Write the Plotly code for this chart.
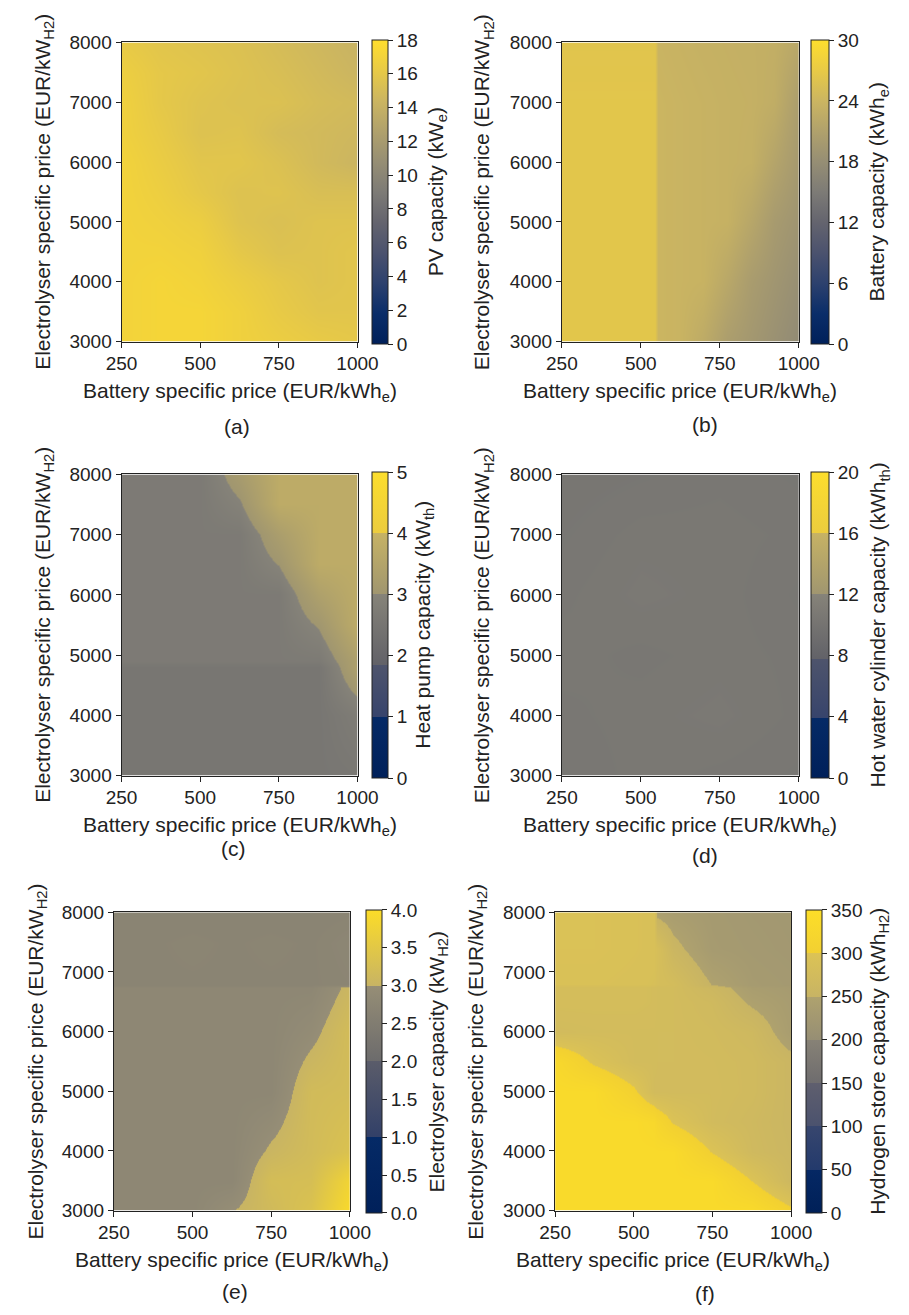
import plotly.graph_objects as go

W, H = 909, 1315

# ------------------------------------------------------------------ data
# (a) PV capacity (kWe)
batt_price_a = [250, 375, 500, 625, 750, 875, 1000]
elec_price_a = [3000, 3500, 4000, 4500, 5000, 5500, 6000, 6500, 7000, 7500, 8000]
pv_capacity = [
    [17.0, 17.2, 17.2, 16.8, 16.5, 16.2, 16.0],
    [17.0, 17.2, 17.2, 16.8, 16.2, 15.8, 15.8],
    [17.0, 17.2, 17.0, 16.5, 16.0, 15.6, 15.8],
    [17.0, 17.0, 16.8, 16.0, 15.5, 15.6, 15.8],
    [17.0, 16.8, 16.5, 15.6, 15.3, 15.6, 15.6],
    [17.0, 16.6, 16.0, 15.5, 15.6, 15.2, 15.2],
    [17.0, 16.4, 15.8, 15.8, 15.4, 14.8, 14.4],
    [16.8, 16.2, 15.5, 15.6, 15.0, 14.8, 14.6],
    [16.8, 16.0, 15.6, 15.4, 15.4, 15.0, 14.8],
    [16.6, 16.0, 15.8, 15.5, 15.2, 14.8, 14.4],
    [16.2, 15.8, 15.6, 15.4, 15.0, 14.6, 14.2],
]

# (b) Battery capacity (kWhe)
batt_price_b = [250, 400, 545, 555, 625, 700, 775, 850, 925, 1000]
elec_price_b = [3000, 4000, 5000, 6000, 7000, 8000]
battery_capacity = [
    [26.4, 26.4, 26.4, 24.0, 23.8, 22.5, 20.5, 19.5, 18.5, 17.5],
    [26.4, 26.4, 26.4, 24.0, 23.8, 23.6, 22.0, 20.2, 19.2, 18.2],
    [26.4, 26.4, 26.4, 24.0, 23.8, 23.6, 23.4, 21.8, 20.0, 19.0],
    [26.4, 26.4, 26.4, 24.0, 23.8, 23.6, 23.4, 23.2, 21.5, 19.8],
    [26.4, 26.4, 26.4, 24.0, 23.8, 23.6, 23.4, 23.3, 22.8, 20.5],
    [26.2, 26.2, 26.2, 23.8, 23.6, 23.4, 23.3, 23.2, 23.0, 22.0],
]

# (c) Heat pump capacity (kWth)
batt_price_c = [250, 375, 500, 625, 750, 875, 1000]
elec_price_c = [3000, 4000, 4800, 4900, 5500, 6000, 6500, 7000, 7500, 8000]
heat_pump_capacity = [
    [2.55, 2.55, 2.55, 2.55, 2.55, 2.55, 2.60],
    [2.55, 2.55, 2.55, 2.55, 2.55, 2.55, 2.77],
    [2.55, 2.55, 2.55, 2.55, 2.55, 2.55, 3.38],
    [2.70, 2.70, 2.70, 2.70, 2.70, 2.70, 3.36],
    [2.70, 2.70, 2.70, 2.70, 2.70, 3.03, 3.75],
    [2.70, 2.70, 2.70, 2.70, 2.70, 3.38, 3.75],
    [2.70, 2.70, 2.70, 2.70, 3.01, 3.75, 3.75],
    [2.70, 2.70, 2.70, 2.70, 3.28, 3.75, 3.75],
    [2.70, 2.70, 2.70, 2.95, 3.75, 3.75, 3.75],
    [2.70, 2.70, 2.70, 3.20, 3.75, 3.75, 3.75],
]

# (d) Hot water cylinder capacity (kWhth)
batt_price_d = [250, 500, 750, 1000]
elec_price_d = [3000, 4000, 5000, 6000, 7000, 8000]
hot_water_capacity = [
    [10.4, 10.6, 10.5, 10.4],
    [10.5, 10.6, 10.7, 10.5],
    [10.6, 10.5, 10.6, 10.5],
    [10.5, 10.7, 10.6, 10.4],
    [10.4, 10.6, 10.6, 10.5],
    [10.3, 10.4, 10.5, 10.4],
]

# (e) Electrolyser capacity (kWH2)
batt_price_e = [250, 375, 500, 625, 750, 875, 1000]
elec_price_e = [3000, 3500, 4000, 5000, 6000, 6750, 6800, 7500, 8000]
electrolyser_capacity = [
    [2.80, 2.80, 2.80, 2.99, 3.15, 3.35, 3.95],
    [2.80, 2.80, 2.80, 2.80, 3.22, 3.25, 3.80],
    [2.80, 2.80, 2.80, 2.80, 3.04, 3.18, 3.35],
    [2.80, 2.80, 2.80, 2.80, 2.80, 3.17, 3.20],
    [2.80, 2.80, 2.80, 2.80, 2.80, 2.93, 3.20],
    [2.80, 2.80, 2.80, 2.80, 2.80, 2.80, 3.06],
    [2.72, 2.72, 2.72, 2.72, 2.72, 2.72, 2.75],
    [2.72, 2.72, 2.74, 2.72, 2.74, 2.72, 2.78],
    [2.70, 2.70, 2.70, 2.70, 2.70, 2.70, 2.72],
]

# (f) Hydrogen store capacity (kWhH2)
batt_price_f = [250, 375, 500, 565, 575, 625, 750, 875, 1000]
elec_price_f = [3000, 3500, 4000, 4500, 5000, 5500, 6000, 6500, 6750, 6800, 7400, 8000]
hydrogen_store_capacity = [
    [335, 335, 335, 335, 335, 335, 335, 335, 305],
    [335, 335, 335, 335, 335, 335, 335, 299, 262],
    [335, 335, 335, 335, 335, 335, 298, 268, 258],
    [335, 335, 335, 328, 319, 297, 274, 266, 256],
    [335, 335, 304, 274, 274, 274, 275, 270, 256],
    [328, 295, 276, 276, 275, 275, 274, 270, 256],
    [274, 276, 276, 276, 275, 275, 272, 265, 237],
    [280, 280, 280, 278, 276, 275, 268, 246, 235],
    [280, 280, 280, 278, 276, 275, 260, 238, 232],
    [292, 292, 290, 288, 282, 278, 249, 232, 228],
    [295, 295, 292, 290, 285, 257, 232, 228, 225],
    [295, 295, 292, 290, 244, 238, 230, 226, 224],
]

x_ticks = [250, 500, 750, 1000]
y_ticks = [3000, 4000, 5000, 6000, 7000, 8000]

# ------------------------------------------------------------------ styling
FONT = "Liberation Sans, Arial, sans-serif"
TXT = "#222222"
TICK_SIZE = 19
TITLE_SIZE = 21

# cividis-like continuous palette
CIV = [
    [0.0, "rgb(0,32,90)"], [0.1, "rgb(10,45,105)"], [0.2, "rgb(45,65,110)"],
    [0.3, "rgb(75,82,110)"], [0.4, "rgb(100,100,110)"], [0.5, "rgb(125,123,118)"],
    [0.6, "rgb(150,142,116)"], [0.7, "rgb(176,161,108)"], [0.8, "rgb(203,181,97)"],
    [0.9, "rgb(232,202,70)"], [1.0, "rgb(255,222,45)"],
]


def stepped(edges, colors):
    """edges: band boundaries (values), colors: (c_low, c_high) per band"""
    lo, hi = edges[0], edges[-1]
    sc = []
    for i, (ca, cb) in enumerate(colors):
        a = (edges[i] - lo) / (hi - lo)
        b = (edges[i + 1] - lo) / (hi - lo)
        sc.append([a, ca])
        sc.append([b, cb])
    return sc


NAVY = ("rgb(0,32,90)", "rgb(5,42,102)")
BLUEGRAY = ("rgb(55,68,108)", "rgb(78,84,108)")
GRAY = ("rgb(98,98,104)", "rgb(134,131,121)")
KHAKI = ("rgb(160,150,112)", "rgb(198,178,100)")
YELLOW = ("rgb(236,204,62)", "rgb(252,222,45)")

cs_c = stepped([0, 1, 1.85, 3, 4, 5], [NAVY, BLUEGRAY, GRAY, KHAKI, YELLOW])
cs_d = stepped([0, 3.9, 7.8, 12, 16, 20], [NAVY, BLUEGRAY, GRAY, KHAKI, YELLOW])
cs_e = stepped([0, 1, 2, 3, 4], [
    NAVY, ("rgb(50,64,104)", "rgb(90,92,106)"),
    ("rgb(108,107,108)", "rgb(150,142,118)"),
    ("rgb(200,180,100)", "rgb(252,220,40)")])
cs_f = stepped([0, 50, 100, 150, 200, 250, 300, 350], [
    ("rgb(0,32,88)", "rgb(5,40,100)"),
    ("rgb(35,58,108)", "rgb(55,70,110)"),
    ("rgb(75,82,110)", "rgb(95,95,110)"),
    ("rgb(110,108,110)", "rgb(135,130,118)"),
    ("rgb(150,142,116)", "rgb(175,162,110)"),
    ("rgb(200,180,100)", "rgb(220,195,85)"),
    ("rgb(242,208,50)", "rgb(252,222,40)"),
])

# pixel boxes: plot area (x0, x1, y0, y1), colorbar (x0, x1)
panels = [
    dict(x=batt_price_a, y=elec_price_a, z=pv_capacity, cs=CIV, zmax=18,
         ticks=list(range(0, 19, 2)), fmt="d", box=(110, 356, 33, 337), cb=(371, 387),
         cbt="PV capacity (kW<sub>e</sub>)", cbtx=439, ytx=29, lab="(a)", labxy=(230, 423)),
    dict(x=batt_price_b, y=elec_price_b, z=battery_capacity, cs=CIV, zmax=30,
         ticks=list(range(0, 31, 6)), fmt="d", box=(569, 816, 33, 337), cb=(829, 847),
         cbt="Battery capacity (kWh<sub>e</sub>)", cbtx=899, ytx=487, lab="(b)", labxy=(718, 421)),
    dict(x=batt_price_c, y=elec_price_c, z=heat_pump_capacity, cs=cs_c, zmax=5,
         ticks=list(range(0, 6)), fmt="d", box=(110, 356, 472, 778), cb=(371, 387),
         cbt="Heat pump capacity (kW<sub>th</sub>)", cbtx=425, ytx=29, lab="(c)", labxy=(227, 852)),
    dict(x=batt_price_d, y=elec_price_d, z=hot_water_capacity, cs=cs_d, zmax=20,
         ticks=list(range(0, 21, 4)), fmt="d", box=(569, 816, 472, 778), cb=(829, 847),
         cbt="Hot water cylinder capacity (kWh<sub>th</sub>)", cbtx=900, ytx=487, lab="(d)", labxy=(718, 859)),
    dict(x=batt_price_e, y=elec_price_e, z=electrolyser_capacity, cs=cs_e, zmax=4,
         ticks=[0, 0.5, 1, 1.5, 2, 2.5, 3, 3.5, 4], fmt=".1f", box=(102, 348, 917, 1220), cb=(365, 381),
         cbt="Electrolyser capacity (kW<sub>H2</sub>)", cbtx=440, ytx=22, lab="(e)", labxy=(228, 1302)),
    dict(x=batt_price_f, y=elec_price_f, z=hydrogen_store_capacity, cs=cs_f, zmax=350,
         ticks=list(range(0, 351, 50)), fmt="d", box=(562, 808, 917, 1220), cb=(823, 839),
         cbt="Hydrogen store capacity (kWh<sub>H2</sub>)", cbtx=900, ytx=481, lab="(f)", labxy=(718, 1304)),
]

fig = go.Figure()
layout = dict(
    width=W, height=H, margin=dict(l=0, r=0, t=0, b=0),
    paper_bgcolor="white", plot_bgcolor="white", showlegend=False,
    font=dict(family=FONT, size=TICK_SIZE, color=TXT),
)
annotations = []

for i, p in enumerate(panels, start=1):
    x0, x1, y0, y1 = p["box"]
    dx = [x0 / W, x1 / W]
    dy = [1 - y1 / H, 1 - y0 / H]
    sfx = "" if i == 1 else str(i)
    cbx0, cbx1 = p["cb"]
    fig.add_trace(go.Heatmap(
        x=p["x"], y=p["y"], z=p["z"], zsmooth="best",
        colorscale=p["cs"], zmin=0, zmax=p["zmax"],
        xaxis="x" + sfx, yaxis="y" + sfx, hoverinfo="skip",
        colorbar=dict(
            x=cbx0 / W, xanchor="left", xref="paper",
            y=(dy[0] + dy[1]) / 2, yanchor="middle", yref="paper",
            len=(y1 - y0), lenmode="pixels",
            thickness=(cbx1 - cbx0), thicknessmode="pixels",
            xpad=0, ypad=0, outlinewidth=1, outlinecolor="#222",
            ticks="outside", ticklen=5, tickwidth=1, tickcolor="#222",
            tickvals=p["ticks"], tickformat=p["fmt"],
            tickfont=dict(family=FONT, size=TICK_SIZE, color=TXT),
        ),
    ))
    layout["xaxis" + sfx] = dict(
        domain=dx, anchor="y" + sfx, range=[250, 1000], tickvals=x_ticks,
        ticks="outside", ticklen=5, tickwidth=1, tickcolor="#222",
        showline=True, mirror=True, linecolor="#222", linewidth=1,
        showgrid=False, zeroline=False, tickfont=dict(size=TICK_SIZE, color=TXT),
    )
    layout["yaxis" + sfx] = dict(
        domain=dy, anchor="x" + sfx, range=[3000, 8000], tickvals=y_ticks,
        ticks="outside", ticklen=5, tickwidth=1, tickcolor="#222",
        showline=True, mirror=True, linecolor="#222", linewidth=1,
        showgrid=False, zeroline=False, tickfont=dict(size=TICK_SIZE, color=TXT),
    )
    # x-axis title
    annotations.append(dict(
        text="Battery specific price (EUR/kWh<sub>e</sub>)", xref="paper", yref="paper",
        x=(x0 + x1) / 2 / W, y=1 - (y1 + 51) / H, xanchor="center", yanchor="middle",
        showarrow=False, font=dict(family=FONT, size=TITLE_SIZE, color=TXT)))
    # y-axis title
    annotations.append(dict(
        text="Electrolyser specific price (EUR/kW<sub>H2</sub>)", xref="paper", yref="paper",
        x=p["ytx"] / W, y=1 - (y0 + y1) / 2 / H, xanchor="center", yanchor="middle",
        textangle=-90, showarrow=False, font=dict(family=FONT, size=TITLE_SIZE, color=TXT)))
    # colorbar title
    annotations.append(dict(
        text=p["cbt"], xref="paper", yref="paper",
        x=p["cbtx"] / W, y=1 - (y0 + y1) / 2 / H, xanchor="center", yanchor="middle",
        textangle=-90, showarrow=False, font=dict(family=FONT, size=TITLE_SIZE, color=TXT)))
    # panel label
    annotations.append(dict(
        text=p["lab"], xref="paper", yref="paper",
        x=p["labxy"][0] / W, y=1 - p["labxy"][1] / H, xanchor="center", yanchor="middle",
        showarrow=False, font=dict(family=FONT, size=TITLE_SIZE, color=TXT)))

layout["annotations"] = annotations
fig.update_layout(**layout)
fig.write_html("out.html")
